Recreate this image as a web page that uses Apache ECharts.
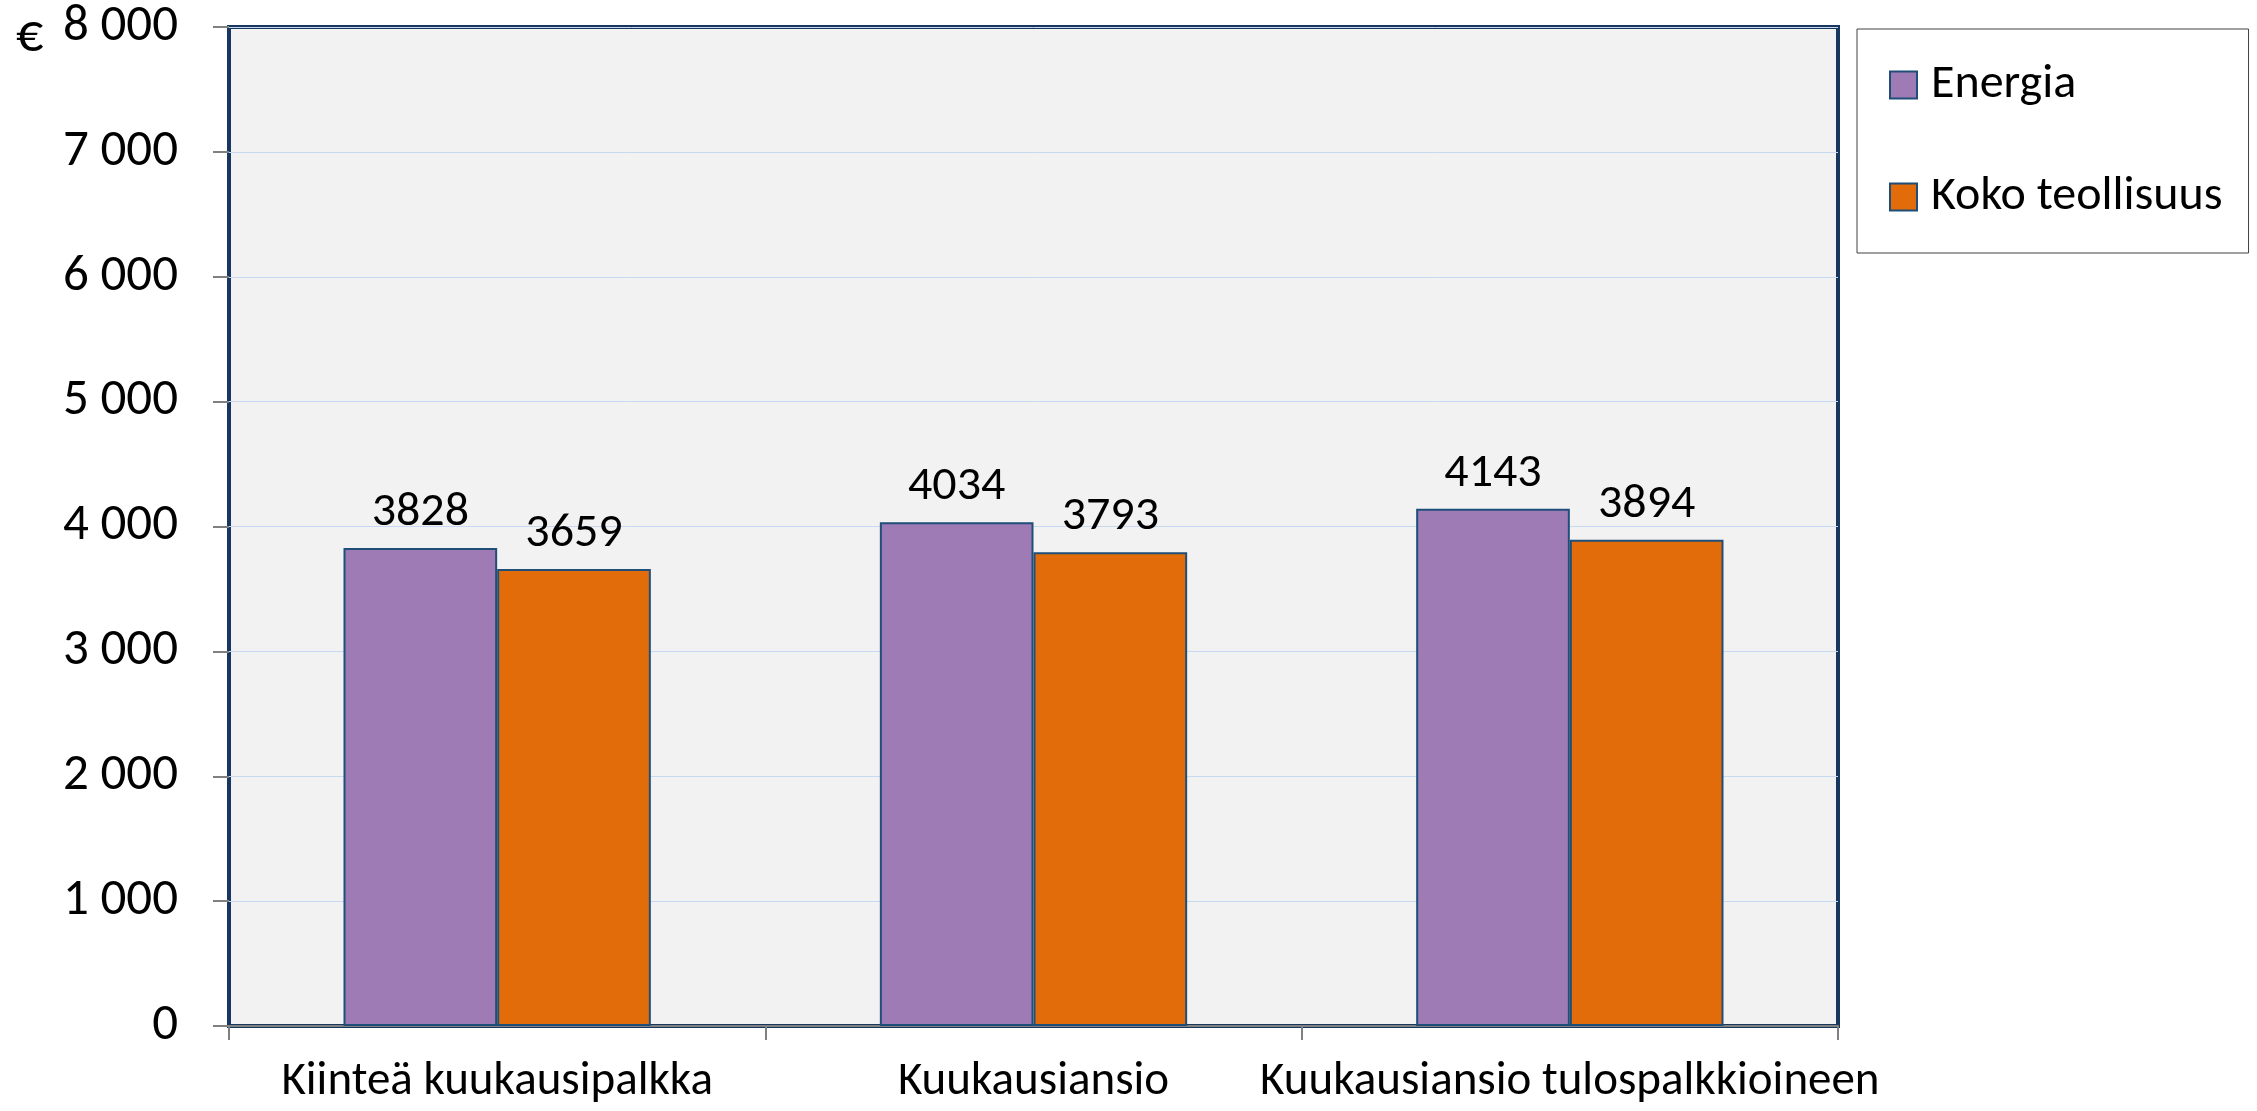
<!DOCTYPE html>
<html>
<head>
<meta charset="utf-8">
<script src="https://cdn.jsdelivr.net/npm/echarts@6/dist/echarts.min.js"></script>
<style>
html,body{margin:0;padding:0;background:#fff;}
#main{width:2257px;height:1111px;}
</style>
</head>
<body>
<div id="main"></div>
<script>
const categories = ['Kiinteä kuukausipalkka', 'Kuukausiansio', 'Kuukausiansio tulospalkkioineen'];
const energia = [3828, 4034, 4143];
const kokoTeollisuus = [3659, 3793, 3894];
const seriesNames = ['Energia', 'Koko teollisuus'];
const yMin = 0, yMax = 8000, yStep = 1000;

const FONT = "Carlito, Lato, 'Open Sans', sans-serif";
const chart = echarts.init(document.getElementById('main'));

function fmt(v){ return v >= 1000 ? String(v).replace(/\B(?=(\d{3})+(?!\d))/g, ' ') : String(v); }

const barBorder = {borderColor: '#1F4E79', borderWidth: 2};
const labelCfg = {show: true, position: 'top', distance: 11, color: '#000', fontSize: 48, fontFamily: FONT};

chart.setOption({
  animation: false,
  textStyle: {fontFamily: FONT},
  grid: {left: 229, top: 27, width: 1609, height: 999, show: true, backgroundColor: '#F2F2F2', borderColor: '#17375E', borderWidth: 4, containLabel: false},
  legend: {
    show: true,
    orient: 'vertical',
    left: 1857, top: 29,
    padding: [32, 26, 32, 32],
    itemGap: 64,
    itemWidth: 27, itemHeight: 27,
    backgroundColor: '#fff',
    borderColor: '#404040', borderWidth: 1,
    textStyle: {fontSize: 48, lineHeight: 48, color: '#000', fontFamily: FONT, padding: [0,0,0,9]},
    data: seriesNames.map(n => ({name: n, icon: 'rect', itemStyle: {borderColor: '#1F4E79', borderWidth: 2}}))
  },
  graphic: [{type: 'text', left: 16, top: 10, style: {text: '€', fontSize: 54, fill: '#000', fontFamily: FONT}}],
  xAxis: {
    type: 'category',
    data: categories,
    axisLine: {show: true, lineStyle: {color: '#808080', width: 2}},
    axisTick: {show: true, alignWithLabel: false, length: 14, lineStyle: {color: '#808080', width: 2}},
    axisLabel: {fontSize: 47, color: '#000', margin: 33, fontFamily: FONT, interval: 0},
    splitLine: {show: false}
  },
  yAxis: {
    type: 'value',
    min: yMin, max: yMax, interval: yStep,
    axisLine: {show: false},
    axisTick: {show: true, length: 16, lineStyle: {color: '#808080', width: 2}},
    axisLabel: {fontSize: 51, color: '#000', margin: 51, fontFamily: FONT, formatter: fmt},
    splitLine: {show: true, lineStyle: {color: '#C6D9F0', width: 1}}
  },
  series: [
    {name: seriesNames[0], type: 'bar', data: energia, barGap: '0%', barCategoryGap: '42.7%',
     itemStyle: Object.assign({color: '#9E7BB5'}, barBorder), label: labelCfg},
    {name: seriesNames[1], type: 'bar', data: kokoTeollisuus, barGap: '0%', barCategoryGap: '42.7%',
     itemStyle: Object.assign({color: '#E36C0A'}, barBorder), label: labelCfg}
  ]
});
</script>
</body>
</html>
